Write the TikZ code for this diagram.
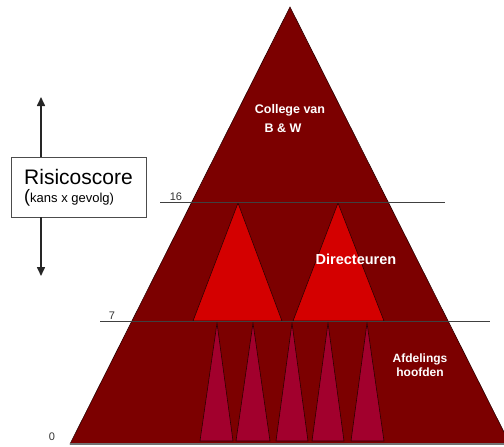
\documentclass[tikz,border=0pt]{standalone}
\usepackage{fontspec}
\setmainfont{Liberation Sans}
\usetikzlibrary{arrows.meta}
\definecolor{maroonmain}{RGB}{124,0,0}
\definecolor{redbig}{RGB}{212,0,0}
\definecolor{crimsonsmall}{RGB}{162,0,45}
\definecolor{edgedark}{RGB}{45,0,0}
\begin{document}
\begin{tikzpicture}[x=1pt,y=-1pt,
  tri/.style={draw=edgedark,line width=0.6pt,line join=miter},
  level/.style={draw=black!75,line width=0.9pt},
  inlabel/.style={text=white,font=\bfseries\fontsize{#1}{#1}\selectfont,inner sep=0pt,align=center},
  numlabel/.style={font=\fontsize{11}{11}\selectfont,text=black!80,inner sep=0pt},
  boxtext/.style={inner sep=0pt,anchor=base west},
  bigarrow/.style={-{Triangle[length=9pt,width=8pt]},line width=1.6pt,black!85}]
\useasboundingbox (0,0) rectangle (504,447);
\begin{scope}
\clip (0,0) rectangle (504,447);
% main pyramid
\fill[maroonmain,tri] (290,7) -- (510,444) -- (70,444) -- cycle;
% directeuren triangles
\fill[redbig,tri] (238,203) -- (282,321) -- (193,321) -- cycle;
\fill[redbig,tri] (338,203) -- (384,321) -- (293,321) -- cycle;
% afdelingshoofden triangles
\foreach \l/\a/\r in {200/217/233, 236/253/270, 276/292/308, 312/328/344, 351/367/384}
  \fill[crimsonsmall,tri] (\a,323) -- (\r,441) -- (\l,441) -- cycle;
% level lines
\draw[level] (160,202) -- (445,202);
\draw[level] (100,321) -- (490,321);
\draw[draw=black!55,line width=1.2pt] (70,444) -- (510,444);
\end{scope}
% labels inside pyramid
\node[inlabel=12.5] (college) at (290,110) {College van};
\node[inlabel=12.5] (bw) at (283,128) {B \& W};
\node[inlabel=14.5] (dir) at (356,259) {Directeuren};
\node[inlabel=12] (afd) at (420,365) {Afdelings\\[2pt]hoofden};
% level numbers
\node[numlabel] (n16) at (176,197) {16};
\node[numlabel] (n7) at (112,316) {7};
\node[numlabel] (n0) at (52,437) {0};
% risk box
\node[draw=black!70,line width=0.8pt,fill=white,minimum width=135pt,minimum height=60pt,inner sep=0pt] (risk) at (78.5,187) {};
\node[boxtext,font=\fontsize{21}{21}\selectfont] (risktitle) at (24,184) {Risicoscore};
\node[boxtext,font=\fontsize{13}{13}\selectfont] (risksub) at (24,202) {{\fontsize{18}{18}\selectfont(}kans x gevolg)};
\coordinate (uptip) at (41,97);
\coordinate (downtip) at (41,276);
\draw[bigarrow] (risk.north -| uptip) -- (uptip);
\draw[bigarrow] (risk.south -| downtip) -- (downtip);
\end{tikzpicture}
\end{document}
